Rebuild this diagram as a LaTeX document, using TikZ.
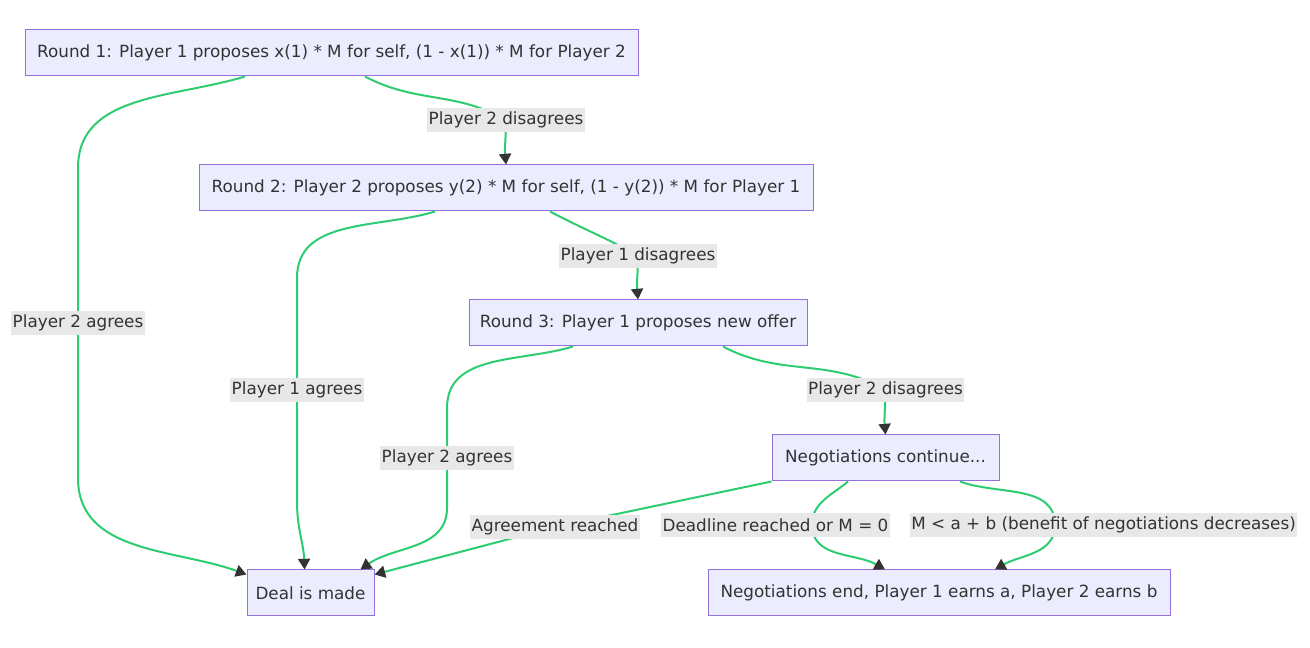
\documentclass[tikz,border=0pt]{standalone}
\usepackage{fontspec}
\setmainfont{DejaVu Sans}
\usepackage{xcolor}
\usepackage{tikz}
\usetikzlibrary{arrows.meta, calc}

\definecolor{boxfill}{HTML}{ECECFF}
\definecolor{boxline}{HTML}{9370DB}
\definecolor{edgegreen}{RGB}{46,204,113}
\definecolor{lblfill}{HTML}{E8E8E8}
\definecolor{inkgray}{HTML}{333333}

\begin{document}
\begin{tikzpicture}[
    x=0.75pt, y=0.75pt,
    every node/.style={font=\fontsize{12.6}{14}\selectfont, text=inkgray},
    box/.style={rectangle, draw=boxline, fill=boxfill, line width=0.75pt, minimum height=34.5pt, inner sep=0pt},
    flow/.style={-{Triangle[length=8pt, width=9pt, color=inkgray]}, draw=edgegreen, line width=1.5pt},
    lbl/.style={fill=lblfill, inner xsep=1pt, inner ysep=0pt, minimum height=18pt},
]
    \useasboundingbox (0,0) rectangle (1310,648);

    % --- rounds ---
    \node[box, minimum width=459.75pt] (round1) at (331.5,595) {Round 1: Player 1 proposes x(1) * M for self, (1 - x(1)) * M for Player 2};
    \node[box, minimum width=460.5pt] (round2) at (506,460) {Round 2: Player 2 proposes y(2) * M for self, (1 - y(2)) * M for Player 1};
    \node[box, minimum width=253.5pt] (round3) at (638,325) {Round 3: Player 1 proposes new offer};
    \node[box, minimum width=170.25pt] (negcont) at (885.5,190) {Negotiations continue...};

    % --- outcomes ---
    \node[box, minimum width=95.25pt] (deal) at (310.5,55) {Deal is made};
    \node[box, minimum width=346.5pt] (negend) at (939,55) {Negotiations end, Player 1 earns a, Player 2 earns b};

    % --- agreements ---
    \draw[flow] ($(round1.south)+(-86.5,0)$) to[out=197, in=90] (78,480) -- node[lbl]{Player 2 agrees} (78,170) to[out=-90, in=160] ($(deal.north west)+(0,-5)$);
    \draw[flow] ($(round2.south)+(-71,0)$) to[out=197, in=90] (297,370) -- node[lbl]{Player 1 agrees} (297,146) to[out=-90, in=92] ($(deal.north)+(-6,0)$);
    \draw[flow] ($(round3.south)+(-65,0)$) to[out=197, in=90] (447,240) -- node[lbl]{Player 2 agrees} (447,140) to[out=-90, in=35] ($(deal.north east)+(-14,0)$);
    \draw[flow] (negcont.south west) -- (555,121) node[lbl]{Agreement reached} -- ($(deal.north east)+(0,-5)$);

    % --- disagreements ---
    \draw[flow] ($(round1.south)+(33.5,0)$) to[out=-28, in=150] (506,528) node[lbl]{Player 2 disagrees} to[out=-90, in=95] (round2.north);
    \draw[flow] ($(round2.south)+(44,0)$) to[out=-28, in=150] (638,392) node[lbl]{Player 1 disagrees} to[out=-90, in=95] (round3.north);
    \draw[flow] ($(round3.south)+(85,0)$) to[out=-28, in=150] (885.5,258) node[lbl]{Player 2 disagrees} to[out=-90, in=95] (negcont.north);

    % --- end of negotiations ---
    \draw[flow] ($(negcont.south)+(-37.5,0)$) to[out=-140, in=90] (812,123) node[lbl, xshift=-27.4pt]{Deadline reached or M = 0} to[out=-90, in=150] ($(negend.north)+(-54,0)$);
    \draw[flow] ($(negcont.south)+(74.5,0)$) to[out=-20, in=90] (1055,123) node[lbl, xshift=36.4pt]{M < a + b (benefit of negotiations decreases)} to[out=-90, in=30] ($(negend.north)+(56,0)$);

\end{tikzpicture}
\end{document}
